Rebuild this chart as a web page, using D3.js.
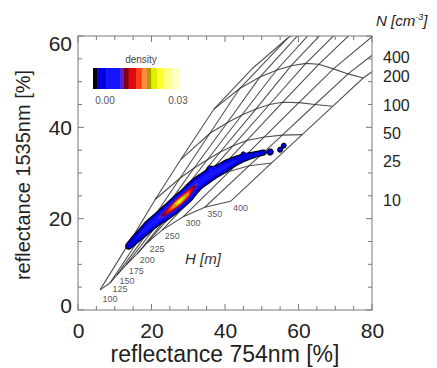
<!DOCTYPE html>
<html><head><meta charset="utf-8">
<script src="https://cdn.jsdelivr.net/npm/d3@7"></script>
<style>
body{margin:0;background:#fff;}
svg{display:block;font-family:"Liberation Sans",Arial,Helvetica,sans-serif;}
</style>
</head><body>
<svg id="chart" width="437" height="368"></svg>
<script>
// ---- data -------------------------------------------------------------
const hValues = [100,125,150,175,200,225,250,300,350,400];   // cloud thickness H [m]
const nValues = [10,25,50,100,200,400];                      // droplet number N [cm^-3]
// grid nodes: reflectance 754nm (x) and 1535nm (y) per H row and N column
const gridX = [
  [6.0,14.0,21.0,28.0,37.0,47.6],
  [8.7,19.6,27.8,35.9,44.0,57.0],
  [10.6,22.7,31.6,40.6,49.5,62.5],
  [13.1,25.8,35.2,44.6,54.0,67.0],
  [16.1,29.1,38.7,48.4,58.0,71.0],
  [18.8,32.2,42.1,52.1,62.0,74.5],
  [22.9,36.1,45.9,55.7,65.5,77.5],
  [28.6,41.3,50.7,60.1,69.5,81.0],
  [34.5,46.6,55.6,64.5,73.5,83.5],
  [41.5,52.7,61.0,69.3,77.6,85.0]];
const gridY = [
  [4.4,14.8,24.2,33.0,44.0,53.0],
  [5.9,19.1,28.9,38.7,48.5,59.5],
  [7.7,21.1,31.1,41.0,51.0,62.5],
  [9.9,23.1,32.9,42.7,52.5,64.0],
  [12.3,25.1,34.6,44.0,53.5,64.5],
  [14.7,26.9,35.9,45.0,54.0,64.0],
  [17.5,28.8,37.1,45.5,53.8,63.0],
  [20.4,30.4,37.9,45.4,52.8,60.5],
  [22.5,31.6,38.3,45.0,51.7,58.0],
  [23.8,32.2,38.4,44.6,50.8,55.0]];
// observed density ridge (x, y, peak density, half width in px)
const ridgeX = [13.8,15.5,17.5,19.5,21.5,23.5,25.5,27.5,29.5,31.0,32.5,34.5,36.5,38.5,40.5,42.5,44.5,46.5,48.5,50.5];
const ridgeY = [14.0,15.4,16.9,18.5,19.8,21.0,22.3,23.7,25.1,26.5,27.7,28.8,29.9,30.7,31.7,32.5,33.2,33.7,34.1,34.5];
const ridgeD = [.0030,.0045,.0060,.0075,.0090,.0120,.0175,.0230,.0195,.0130,.0095,.0085,.0075,.0070,.0060,.0050,.0042,.0035,.0030,.0025];
const ridgeW = [4.5,5,5.5,6,6,6.5,6.5,6.5,6.5,6.5,6.5,6.5,6.5,6,6,5.5,5,4.5,4,4];
// isolated density spots
const spotX = [52.3,55.0,56.0,45.0,36.0,26.5,29.0];
const spotY = [34.6,35.1,36.0,34.2,30.8,23.4,24.8];
const spotD = [.0040,.0035,.0030,.0030,.0060,.0235,.0228];
const spotW = [4,3.5,3.5,3,4,2.2,2];
// colour bar levels and colours
const cbarLevels = [0,.0014,.0045,.0093,.0105,.0123,.0150,.0168,.0186,.0201,.0222,.0243,.0270,.0300];
const cbarColors = ["#000000","#0000e0","#1414ff","#5a22c8","#820016","#e00a0a","#ff3c14","#ff8a3c","#a8a000","#e0ee00","#ffff30","#ffff84","#ffffc4"];
const xTicks = [0,20,40,60,80];
const yTicks = [0,20,40,60];

// ---- layout -----------------------------------------------------------
const svg = d3.select("#chart");
const X0 = 78, X1 = 372, Y0 = 36, Y1 = 310;
const x = d3.scaleLinear().domain([0,80]).range([X0,X1]);
const y = d3.scaleLinear().domain([0,60]).range([Y1,Y0]);

svg.append("defs").append("clipPath").attr("id","plotclip")
  .append("rect").attr("x",X0).attr("y",Y0).attr("width",X1-X0).attr("height",Y1-Y0);

const plot = svg.append("g").attr("clip-path","url(#plotclip)");
const line = d3.line().x(d=>x(d[0])).y(d=>y(d[1]));

// constant-H lines
hValues.forEach((h,i)=>{
  const pts = nValues.map((n,j)=>[gridX[i][j],gridY[i][j]]);
  plot.append("path").attr("d",line(pts)).attr("fill","none")
    .attr("stroke","#333").attr("stroke-width",1.1).attr("stroke-opacity",0.85);
});
// constant-N lines
nValues.forEach((n,j)=>{
  const pts = hValues.map((h,i)=>[gridX[i][j],gridY[i][j]]);
  plot.append("path").attr("d",line(pts)).attr("fill","none")
    .attr("stroke","#333").attr("stroke-width",1.1).attr("stroke-opacity",0.85);
});

// ---- density field -> contours ------------------------------------------
const W = X1-X0, H = Y1-Y0;
const vals = new Float64Array(W*H);
const rpx = ridgeX.map(v=>x(v)), rpy = ridgeY.map(v=>y(v));
const spx = spotX.map(v=>x(v)), spy = spotY.map(v=>y(v));
for (let j=0;j<H;j++){
  for (let i=0;i<W;i++){
    const px = X0+i+0.5, py = Y0+j+0.5;
    let m = 0;
    for (let k=0;k<rpx.length-1;k++){
      const ax=rpx[k], ay=rpy[k], bx=rpx[k+1], by=rpy[k+1];
      const vx=bx-ax, vy=by-ay, L2=vx*vx+vy*vy;
      let t=((px-ax)*vx+(py-ay)*vy)/L2; t=Math.max(0,Math.min(1,t));
      const dx=px-(ax+t*vx), dy=py-(ay+t*vy);
      const D=ridgeD[k]+(ridgeD[k+1]-ridgeD[k])*t;
      const s=(ridgeW[k]+(ridgeW[k+1]-ridgeW[k])*t)*0.45;
      const v=D*Math.exp(-(dx*dx+dy*dy)/(2*s*s));
      if (v>m) m=v;
    }
    for (let k=0;k<spx.length;k++){
      const dx=px-spx[k], dy=py-spy[k], s=spotW[k]*0.45;
      const v=spotD[k]*Math.exp(-(dx*dx+dy*dy)/(2*s*s));
      if (v>m) m=v;
    }
    vals[j*W+i]=m;
  }
}
const thresholds = cbarLevels.slice(0,-1).map((v,i)=> i===0 ? 0.0006 : v);
const contours = d3.contours().size([W,H]).thresholds(thresholds)(vals);
const blob = svg.append("g").attr("transform",`translate(${X0},${Y0})`);
blob.selectAll("path").data(contours).join("path")
  .attr("d",d3.geoPath())
  .attr("fill",(d,i)=>cbarColors[i]);

// ---- frame & axes -------------------------------------------------------
const axisColor = "#7a7a7a";
svg.append("rect").attr("x",X0).attr("y",Y0).attr("width",X1-X0).attr("height",Y1-Y0)
  .attr("fill","none").attr("stroke",axisColor).attr("stroke-width",1);

const ticks = svg.append("g").attr("stroke",axisColor).attr("stroke-width",1);
d3.range(0,81,5).forEach(v=>{
  const len = v%20===0 ? 6 : 4;
  ticks.append("line").attr("x1",x(v)).attr("x2",x(v)).attr("y1",Y1).attr("y2",Y1-len);
  ticks.append("line").attr("x1",x(v)).attr("x2",x(v)).attr("y1",Y0).attr("y2",Y0+len);
});
d3.range(0,61,5).forEach(v=>{
  const len = v%20===0 ? 6 : 4;
  ticks.append("line").attr("y1",y(v)).attr("y2",y(v)).attr("x1",X0).attr("x2",X0+len);
  ticks.append("line").attr("y1",y(v)).attr("y2",y(v)).attr("x1",X1).attr("x2",X1-len);
});

const xAxis = svg.append("g").attr("transform",`translate(0,${Y1})`)
  .call(d3.axisBottom(x).tickValues(xTicks).tickSize(0).tickPadding(13).tickFormat(d3.format("d")));
xAxis.select(".domain").remove();
xAxis.selectAll("text").attr("font-size",21).attr("fill","#222").attr("font-family","Liberation Sans, Arial, sans-serif");

const yAxis = svg.append("g").attr("transform",`translate(${X0},0)`)
  .call(d3.axisLeft(y).tickValues(yTicks).tickSize(0).tickPadding(6).tickFormat(d3.format("d")));
yAxis.select(".domain").remove();
yAxis.selectAll("text").attr("font-size",21).attr("fill","#222").attr("font-family","Liberation Sans, Arial, sans-serif")
  .attr("dy",d=> d===60 ? "0.67em" : d===0 ? "0.1em" : "0.32em");

svg.append("text").attr("x",(X0+X1)/2).attr("y",362).attr("text-anchor","middle")
  .attr("font-size",23).attr("fill","#222").text("reflectance 754nm [%]");
svg.append("text").attr("transform","translate(30,175) rotate(-90)").attr("text-anchor","middle")
  .attr("font-size",20).attr("fill","#222").text("reflectance 1535nm [%]");

// ---- H labels along the N=10 line ------------------------------------
svg.append("g").selectAll("text").data(hValues).join("text")
  .attr("x",(h,i)=>x(gridX[i][0])+10).attr("y",(h,i)=>y(gridY[i][0])+(i===0?9.5:7))
  .attr("text-anchor","middle").attr("dominant-baseline","middle")
  .attr("font-size",9).attr("fill","#333").attr("fill-opacity",0.85).text(d=>d);
svg.append("text").attr("x",185).attr("y",264).attr("font-size",15).attr("font-style","italic")
  .attr("fill","#333").text("H [m]");

// ---- N labels on the right ---------------------------------------------
svg.append("g").selectAll("text").data(nValues).join("text")
  .attr("x",383).attr("y",(n,j)=>y(gridY[9][j]))
  .attr("dominant-baseline","middle").attr("font-size",16).attr("fill","#222").text(d=>d);
const nt = svg.append("text").attr("x",376).attr("y",26).attr("font-size",15)
  .attr("font-style","italic").attr("fill","#222");
nt.append("tspan").text("N [cm");
nt.append("tspan").attr("font-size",9).attr("dy",-6).text("-3");
nt.append("tspan").attr("dy",6).text("]");

// ---- colour bar ---------------------------------------------------------
const cb = d3.scaleLinear().domain([0,0.03]).range([93,180]);
svg.append("g").selectAll("rect").data(cbarColors).join("rect")
  .attr("x",(c,i)=>cb(cbarLevels[i])).attr("width",(c,i)=>cb(cbarLevels[i+1])-cb(cbarLevels[i])+0.3)
  .attr("y",68).attr("height",21).attr("fill",d=>d);
svg.append("text").attr("x",141).attr("y",63).attr("text-anchor","middle")
  .attr("font-size",10).attr("fill","#444").text("density");
svg.append("text").attr("x",105).attr("y",104).attr("text-anchor","middle")
  .attr("font-size",10).attr("fill","#555").text("0.00");
svg.append("text").attr("x",178).attr("y",104).attr("text-anchor","middle")
  .attr("font-size",10).attr("fill","#555").text("0.03");
</script>
</body></html>
